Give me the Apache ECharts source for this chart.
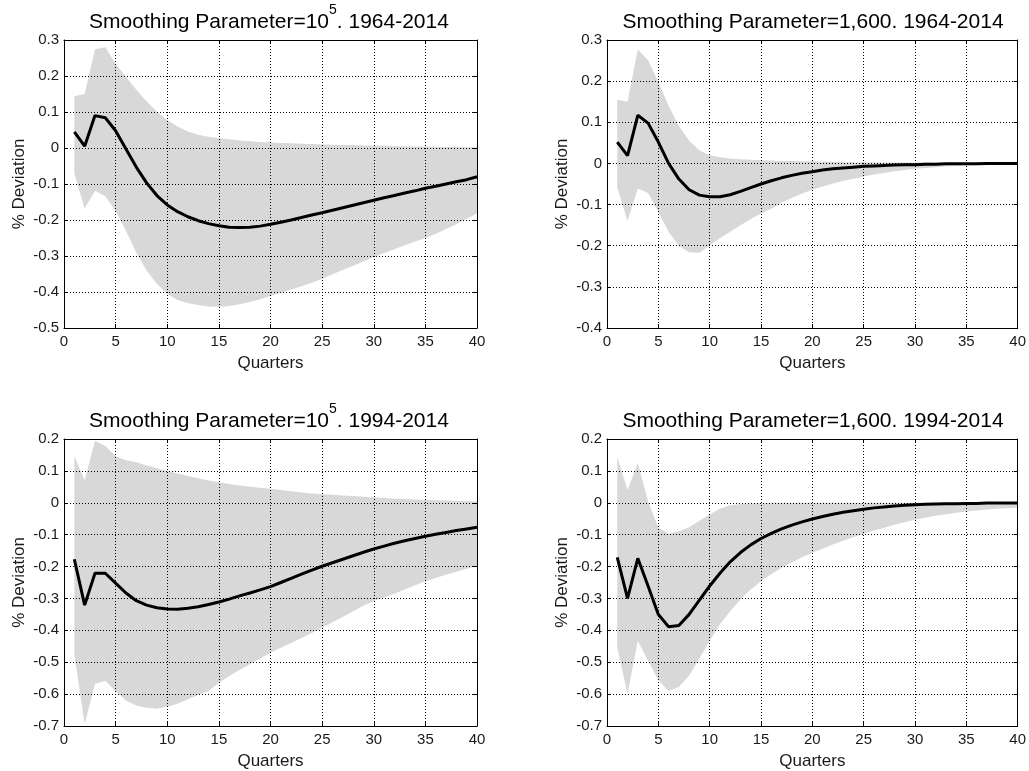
<!DOCTYPE html>
<html><head><meta charset="utf-8">
<script src="https://cdn.jsdelivr.net/npm/echarts@6/dist/echarts.min.js"></script>
<style>html,body{margin:0;padding:0;background:#fff}#c{width:1029px;height:771px}</style>
</head><body><div id="c"></div><script>
// ---------- data ----------
const quarters = [1,2,3,4,5,6,7,8,9,10,11,12,13,14,15,16,17,18,19,20,21,22,23,24,25,26,27,28,29,30,31,32,33,34,35,36,37,38,39,40];
const xTicks = [0,5,10,15,20,25,30,35,40];

const titles = [
  ['Smoothing Parameter=10', '5', '. 1964-2014'],
  ['Smoothing Parameter=1,600. 1964-2014', '', ''],
  ['Smoothing Parameter=10', '5', '. 1994-2014'],
  ['Smoothing Parameter=1,600. 1994-2014', '', '']
];
const xName = 'Quarters';
const yName = '% Deviation';

// Panel 1: lambda = 10^5, 1964-2014
const p1Mean  = [0.045,0.005,0.090,0.084,0.048,-0.003,-0.053,-0.097,-0.132,-0.158,-0.177,-0.191,-0.202,-0.210,-0.216,-0.220,-0.221,-0.220,-0.217,-0.212,-0.206,-0.200,-0.193,-0.186,-0.180,-0.173,-0.166,-0.159,-0.152,-0.145,-0.138,-0.132,-0.125,-0.119,-0.112,-0.106,-0.100,-0.094,-0.088,-0.080];
const p1Upper = [0.144,0.150,0.274,0.280,0.233,0.197,0.162,0.130,0.101,0.078,0.060,0.046,0.037,0.031,0.027,0.024,0.021,0.019,0.017,0.015,0.014,0.013,0.012,0.011,0.010,0.009,0.008,0.008,0.007,0.006,0.006,0.005,0.005,0.004,0.004,0.003,0.003,0.003,0.002,0.002];
const p1Lower = [-0.070,-0.168,-0.119,-0.134,-0.175,-0.230,-0.290,-0.340,-0.378,-0.405,-0.422,-0.431,-0.436,-0.440,-0.442,-0.439,-0.434,-0.428,-0.420,-0.411,-0.402,-0.393,-0.384,-0.374,-0.363,-0.351,-0.339,-0.327,-0.315,-0.303,-0.292,-0.281,-0.270,-0.260,-0.250,-0.238,-0.225,-0.212,-0.197,-0.181];

// Panel 2: lambda = 1,600, 1964-2014
const p2Mean  = [0.052,0.019,0.117,0.098,0.052,0.000,-0.038,-0.064,-0.077,-0.081,-0.081,-0.076,-0.068,-0.059,-0.050,-0.042,-0.035,-0.029,-0.024,-0.020,-0.016,-0.013,-0.011,-0.009,-0.007,-0.006,-0.005,-0.004,-0.003,-0.003,-0.002,-0.002,-0.001,-0.001,-0.001,-0.001,0.000,0.000,0.000,0.000];
const p2Upper = [0.155,0.150,0.277,0.251,0.198,0.140,0.091,0.055,0.032,0.020,0.015,0.012,0.010,0.009,0.008,0.007,0.006,0.006,0.005,0.005,0.004,0.004,0.003,0.003,0.003,0.002,0.002,0.002,0.002,0.002,0.002,0.002,0.001,0.001,0.001,0.001,0.001,0.001,0.001,0.001];
const p2Lower = [-0.059,-0.140,-0.061,-0.072,-0.118,-0.166,-0.200,-0.216,-0.217,-0.199,-0.182,-0.166,-0.150,-0.135,-0.122,-0.110,-0.095,-0.084,-0.073,-0.064,-0.056,-0.049,-0.043,-0.037,-0.032,-0.027,-0.023,-0.019,-0.016,-0.013,-0.011,-0.009,-0.007,-0.006,-0.005,-0.004,-0.003,-0.003,-0.002,-0.002];

// Panel 3: lambda = 10^5, 1994-2014
const p3Mean  = [-0.177,-0.321,-0.221,-0.221,-0.252,-0.283,-0.307,-0.321,-0.329,-0.333,-0.334,-0.331,-0.326,-0.319,-0.311,-0.302,-0.292,-0.283,-0.273,-0.263,-0.250,-0.237,-0.224,-0.211,-0.199,-0.188,-0.177,-0.166,-0.155,-0.145,-0.136,-0.127,-0.119,-0.112,-0.105,-0.099,-0.093,-0.087,-0.082,-0.077];
const p3Upper = [0.146,0.071,0.194,0.178,0.146,0.133,0.127,0.117,0.108,0.100,0.092,0.084,0.077,0.070,0.064,0.059,0.054,0.050,0.047,0.044,0.040,0.036,0.032,0.029,0.027,0.025,0.023,0.021,0.019,0.017,0.015,0.013,0.012,0.010,0.009,0.008,0.007,0.006,0.005,0.004];
const p3Lower = [-0.475,-0.694,-0.568,-0.558,-0.590,-0.620,-0.636,-0.643,-0.646,-0.640,-0.630,-0.616,-0.603,-0.590,-0.565,-0.543,-0.524,-0.506,-0.488,-0.470,-0.455,-0.440,-0.424,-0.408,-0.392,-0.375,-0.358,-0.340,-0.323,-0.308,-0.297,-0.285,-0.272,-0.259,-0.246,-0.236,-0.226,-0.216,-0.207,-0.199];

// Panel 4: lambda = 1,600, 1994-2014
const p4Mean  = [-0.171,-0.300,-0.174,-0.261,-0.350,-0.389,-0.385,-0.350,-0.305,-0.261,-0.221,-0.185,-0.156,-0.132,-0.112,-0.096,-0.082,-0.070,-0.060,-0.051,-0.043,-0.036,-0.030,-0.025,-0.020,-0.016,-0.013,-0.010,-0.008,-0.006,-0.005,-0.004,-0.003,-0.003,-0.002,-0.002,-0.001,-0.001,-0.001,-0.001];
const p4Upper = [0.143,0.040,0.125,0.005,-0.078,-0.097,-0.090,-0.077,-0.056,-0.037,-0.019,-0.008,-0.004,-0.002,-0.001,0.000,0.000,0.000,0.000,0.000,0.000,0.000,0.000,0.000,0.000,0.000,0.000,0.000,0.000,0.000,0.000,0.000,0.000,0.000,0.000,0.000,0.000,0.000,0.000,0.000];
const p4Lower = [-0.455,-0.600,-0.433,-0.495,-0.556,-0.590,-0.578,-0.542,-0.488,-0.433,-0.381,-0.340,-0.303,-0.272,-0.246,-0.223,-0.204,-0.187,-0.171,-0.157,-0.144,-0.131,-0.119,-0.108,-0.097,-0.087,-0.078,-0.069,-0.061,-0.053,-0.047,-0.041,-0.036,-0.031,-0.027,-0.024,-0.021,-0.019,-0.017,-0.015];

const yRanges = [[-0.5,0.3],[-0.4,0.3],[-0.7,0.2],[-0.7,0.2]];

const panelData = [
  [p1Mean,p1Upper,p1Lower],
  [p2Mean,p2Upper,p2Lower],
  [p3Mean,p3Upper,p3Lower],
  [p4Mean,p4Upper,p4Lower]
];

// ---------- layout & style ----------
const grids = [
  {left:64, top:40, width:413, height:288},
  {left:607, top:40, width:412, height:288},
  {left:64, top:439, width:413, height:288},
  {left:607, top:439, width:412, height:288}
];
const titlePos = [[269,3],[813,3],[269,402],[813,402]];
const FONT = '"Liberation Sans", Arial, Helvetica, sans-serif';
const TXT = '#1a1a1a';
const BAND = '#d8d8d8';

const option = {animation:false, backgroundColor:'#fff', title:[], grid:[], xAxis:[], yAxis:[], series:[]};

for (let i = 0; i < 4; i++) {
  const t = titles[i];
  const txt = t[1] ? '{m|' + t[0] + '}{s|' + t[1] + '}{m|' + t[2] + '}' : '{m|' + t[0] + '}';
  option.title.push({
    text: txt, left: titlePos[i][0], top: titlePos[i][1], textAlign:'center', padding:0,
    textStyle: {
      fontFamily: FONT, fontSize: 21, fontWeight:'normal', color:'#000',
      rich: {
        m: {fontFamily: FONT, fontSize: 21, color:'#000', lineHeight: 38},
        s: {fontFamily: FONT, fontSize: 14, color:'#000', lineHeight: 14, verticalAlign:'top'}
      }
    }
  });
  option.grid.push(Object.assign({containLabel:false, show:false}, grids[i]));
  const axLine = {show:true, onZero:false, lineStyle:{color:'#000', width:1}};
  const tick = {show:true, inside:true, length:4, lineStyle:{color:'#000'}};
  const split = {show:true, lineStyle:{color:'#000', width:1, type:[1,2]}};
  const [ymin, ymax] = yRanges[i];
  // bottom x
  option.xAxis.push({
    type:'value', gridIndex:i, min:0, max:40, interval:5, position:'bottom', z:3,
    axisLine:axLine, axisTick:tick, splitLine:split,
    axisLabel:{show:true, margin:6, fontSize:15, fontFamily:FONT, color:TXT, customValues: xTicks},
    name:xName, nameLocation:'middle', nameGap:27,
    nameTextStyle:{fontSize:17, fontFamily:FONT, color:TXT}
  });
  // top x
  option.xAxis.push({
    type:'value', gridIndex:i, min:0, max:40, interval:5, position:'top', z:3,
    axisLine:axLine, axisTick:tick, splitLine:{show:false}, axisLabel:{show:false}
  });
  // left y
  option.yAxis.push({
    type:'value', gridIndex:i, min:ymin, max:ymax, interval:0.1, position:'left', z:3,
    axisLine:axLine, axisTick:tick, splitLine:split,
    axisLabel:{show:true, margin:5, fontSize:15, fontFamily:FONT, color:TXT},
    name:yName, nameLocation:'middle', nameGap:36,
    nameTextStyle:{fontSize:17, fontFamily:FONT, color:TXT}
  });
  // right y
  option.yAxis.push({
    type:'value', gridIndex:i, min:ymin, max:ymax, interval:0.1, position:'right', z:3,
    axisLine:axLine, axisTick:tick, splitLine:{show:false}, axisLabel:{show:false}
  });

  const [mean, upper, lower] = panelData[i];
  const ax = i * 2;
  // confidence band drawn as one polygon through the axis scales
  option.series.push({
    type:'custom', xAxisIndex:ax, yAxisIndex:ax, silent:true, z:1,
    data: quarters.map((q,k)=>[q, lower[k], upper[k]]),
    encode:{x:0, y:[1,2]},
    renderItem: function (params, api) {
      if (params.dataIndex !== 0) return;
      const pts = [];
      for (let k = 0; k < quarters.length; k++) pts.push(api.coord([quarters[k], upper[k]]));
      for (let k = quarters.length - 1; k >= 0; k--) pts.push(api.coord([quarters[k], lower[k]]));
      return {type:'polygon', shape:{points:pts}, style:{fill:BAND, stroke:null}};
    }
  });
  option.series.push({
    type:'line', xAxisIndex:ax, yAxisIndex:ax,
    data: quarters.map((q,k)=>[q, mean[k]]), symbol:'none', silent:true,
    lineStyle:{color:'#000', width:3}, z:2
  });
}

const chart = echarts.init(document.getElementById('c'), null, {renderer:'canvas'});
chart.setOption(option);
</script></body></html>
